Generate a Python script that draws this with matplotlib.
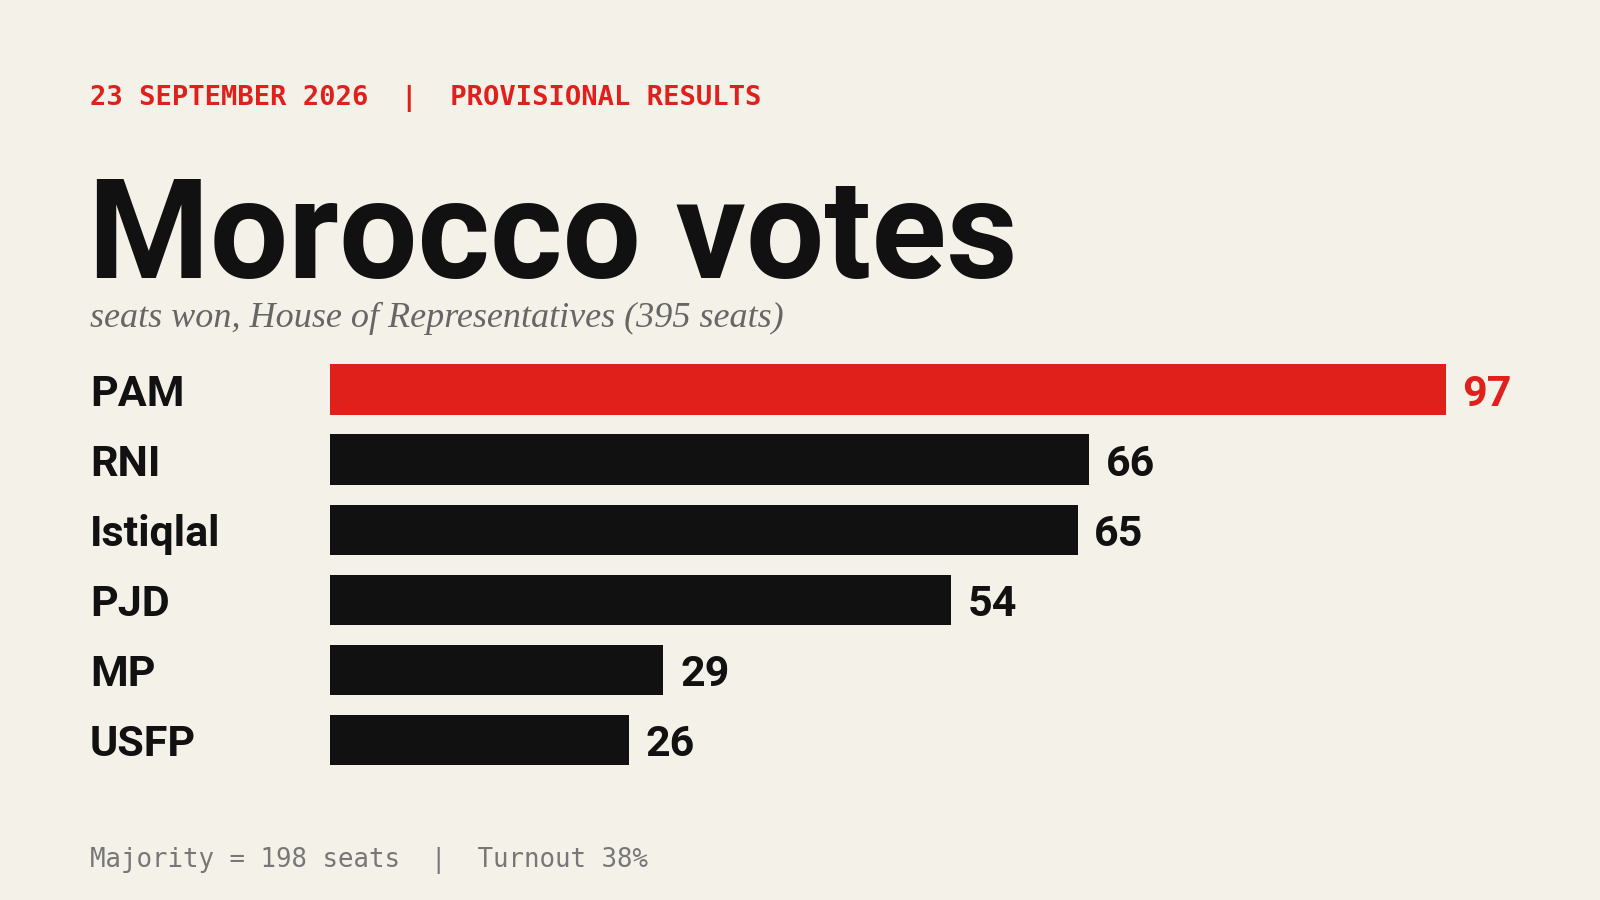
import matplotlib
matplotlib.use("Agg")
import matplotlib.pyplot as plt
from matplotlib import font_manager as fm

parties = ["PAM", "RNI", "Istiqlal", "PJD", "MP", "USFP"]
seats = [97, 66, 65, 54, 29, 26]
colors = ["#e0201b", "#111111", "#111111", "#111111", "#111111", "#111111"]
header = "23 SEPTEMBER 2026  |  PROVISIONAL RESULTS"
title = "Morocco votes"
subtitle = "seats won, House of Representatives (395 seats)"
footer = "Majority = 198 seats  |  Turnout 38%"

names = {f.name for f in fm.fontManager.ttflist}
narrow = ["Liberation Sans Narrow", "Roboto", "DejaVu Sans"]
narrow = [n for n in narrow if n in names] or ["DejaVu Sans"]

BG = "#f4f1e9"
W, H = 1568, 882
fig = plt.figure(figsize=(16, 9), dpi=100, facecolor=BG)

def fx(px): return px / W
def fy(py): return 1 - py / H

fig.text(fx(88), fy(97), header, color="#e0201b", family="DejaVu Sans Mono",
         weight="bold", fontsize=19.5, va="center", ha="left")
fig.text(fx(86), fy(272), title, color="#111111", family=narrow, weight="bold",
         fontsize=100, va="baseline", ha="left")
fig.text(fx(88), fy(320), subtitle, color="#666666", family="Liberation Serif",
         style="italic", fontsize=26, va="baseline", ha="left")
fig.text(fx(88), fy(843), footer, color="#777777", family="DejaVu Sans Mono",
         fontsize=18.5, va="center", ha="left")

ax = fig.add_axes([fx(323), fy(750), fx(1417) - fx(323), (750 - 357) / H])
ax.set_facecolor(BG)
ypos = list(range(len(parties)))
ax.barh(ypos, seats, height=0.72, color=colors)
ax.set_xlim(0, max(seats))
ax.set_ylim(len(parties) - 1 + 0.36, -0.36)
ax.axis("off")
tr = matplotlib.transforms.blended_transform_factory(fig.transFigure, ax.transData)
for y, p, s, c in zip(ypos, parties, seats, colors):
    ax.annotate(str(s), (s, y), xytext=(12, 0), textcoords="offset points",
                va="center_baseline", ha="left", color=c, family=narrow, weight="bold",
                fontsize=31, annotation_clip=False)
    ax.text(fx(88), y, p, transform=tr, va="center_baseline", ha="left",
            color="#111111", family=narrow, weight="bold", fontsize=31)

fig.savefig("out.png", dpi=100, facecolor=BG)
